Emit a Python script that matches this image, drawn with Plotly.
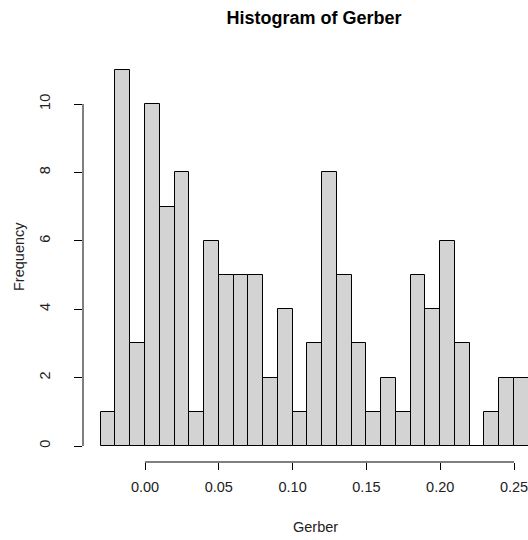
import plotly.graph_objects as go

# Histogram bins (left edges) and frequencies
bin_starts = [-0.03, -0.02, -0.01, 0.00, 0.01, 0.02, 0.03, 0.04, 0.05, 0.06,
              0.07, 0.08, 0.09, 0.10, 0.11, 0.12, 0.13, 0.14, 0.15, 0.16,
              0.17, 0.18, 0.19, 0.20, 0.21, 0.22, 0.23, 0.24, 0.25]
counts = [1, 11, 3, 10, 7, 8, 1, 6, 5, 5,
          5, 2, 4, 1, 3, 8, 5, 3, 1, 2,
          1, 5, 4, 6, 3, 0, 1, 2, 2]
bin_width = 0.01
x_ticks = [0.00, 0.05, 0.10, 0.15, 0.20, 0.25]
x_tick_labels = ["0.00", "0.05", "0.10", "0.15", "0.20", "0.25"]
y_ticks = [0, 2, 4, 6, 8, 10]

centers = [s + bin_width / 2 for s in bin_starts]

FONT = "Liberation Sans, Arial, sans-serif"
FS = 14.5
TXT = "#222"

fig = go.Figure(go.Bar(
    x=centers, y=counts, width=bin_width,
    marker=dict(color="#D3D3D3", line=dict(color="black", width=1)),
))

W, H = 528, 540
L, R, T, B = 83, 0, 60, 78
pw = W - L - R
ph = H - T - B
px_per_unit_x = 14.76 / 0.01
x0 = 0 - (145 - L) / px_per_unit_x
x1 = x0 + pw / px_per_unit_x
px_per_unit_y = 34.2
y0 = -(462 - 446) / px_per_unit_y
y1 = y0 + ph / px_per_unit_y

fig.update_layout(
    width=W, height=H,
    margin=dict(l=L, r=R, t=T, b=B),
    plot_bgcolor="white", paper_bgcolor="white",
    showlegend=False, bargap=0,
    font=dict(family=FONT, size=FS, color="black"),
    title=dict(text="<b>Histogram of Gerber</b>", x=314 / W, xanchor="center",
               xref="container", y=1 - 18 / H, yanchor="middle",
               font=dict(family=FONT, size=18, color="black")),
    xaxis=dict(range=[x0, x1], showgrid=False, zeroline=False, showline=False,
               tickmode="array", tickvals=x_ticks, ticktext=x_tick_labels,
               ticks="outside", ticklen=7, tickcolor="black", tickwidth=1,
               ticklabelstandoff=5, ticklabeloverflow="allow", automargin=False,
               tickfont=dict(size=FS, color=TXT)),
    yaxis=dict(range=[y0, y1], showgrid=False, zeroline=False, showline=False,
               tickmode="array", tickvals=y_ticks, automargin=False,
               ticks="outside", ticklen=8, tickcolor="black", tickwidth=1,
               tickangle=-90, ticklabelstandoff=18, tickfont=dict(size=FS, color=TXT)),
    shapes=[
        dict(type="line", xref="x", yref="paper", x0=x_ticks[0], x1=x_ticks[-1],
             y0=0, y1=0, line=dict(color="black", width=1)),
        dict(type="line", xref="paper", yref="y", x0=0, x1=0,
             y0=y_ticks[0], y1=y_ticks[-1], line=dict(color="black", width=1)),
    ],
    annotations=[
        dict(text="Gerber", xref="paper", yref="paper",
             x=(315 - L) / pw, y=(462 - 527) / ph, showarrow=False,
             xanchor="center", yanchor="middle", font=dict(size=FS, color=TXT)),
        dict(text="Frequency", xref="paper", yref="paper",
             x=(19 - L) / pw, y=(462 - 257) / ph, showarrow=False, textangle=-90,
             xanchor="center", yanchor="middle", font=dict(size=FS, color=TXT)),
    ],
)

fig.write_html("out.html")
